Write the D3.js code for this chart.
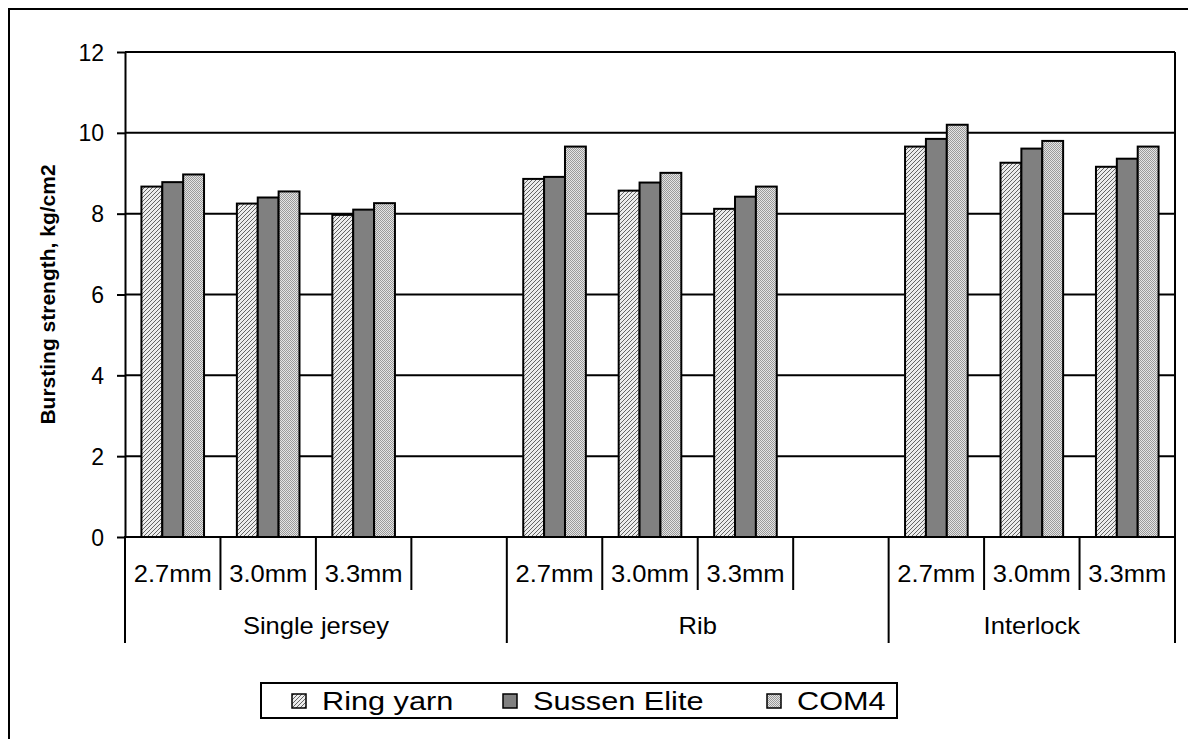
<!DOCTYPE html>
<html>
<head>
<meta charset="utf-8">
<script src="https://cdn.jsdelivr.net/npm/d3@7"></script>
<style>
  html, body { margin: 0; padding: 0; background: #fff; }
  svg { display: block; font-family: "Liberation Sans", Arial, sans-serif; }
</style>
</head>
<body>
<svg id="chart" width="1188" height="739"></svg>
<script>
// Fabric groups and gauge (loop length) sub-categories
const groups = ["Single jersey", "Rib", "Interlock"];
const gauges = ["2.7mm", "3.0mm", "3.3mm"];
// Category slots along the x axis (an empty slot separates the groups)
const slots = [
  { group: "Single jersey", gauge: "2.7mm" },
  { group: "Single jersey", gauge: "3.0mm" },
  { group: "Single jersey", gauge: "3.3mm" },
  { group: "Single jersey", gauge: "" },
  { group: "Rib", gauge: "2.7mm" },
  { group: "Rib", gauge: "3.0mm" },
  { group: "Rib", gauge: "3.3mm" },
  { group: "Rib", gauge: "" },
  { group: "Interlock", gauge: "2.7mm" },
  { group: "Interlock", gauge: "3.0mm" },
  { group: "Interlock", gauge: "3.3mm" }
];
const seriesNames = ["Ring yarn", "Sussen Elite", "COM4"];
// Bursting strength, kg/cm2 — per series, in slot order (gauges within groups)
const ringYarn    = [8.67, 8.25, 7.97,  8.86, 8.57, 8.12,  9.66, 9.26, 9.16];
const sussenElite = [8.78, 8.40, 8.10,  8.91, 8.77, 8.42,  9.85, 9.61, 9.36];
const com4        = [8.97, 8.55, 8.26,  9.66, 9.01, 8.67, 10.20, 9.80, 9.66];
const yTicks = [0, 2, 4, 6, 8, 10, 12];
const yTitle = "Bursting strength, kg/cm2";

const seriesValues = [ringYarn, sussenElite, com4];

const svg = d3.select("#chart");
const defs = svg.append("defs");

// Fill patterns
const pRing = defs.append("pattern").attr("id", "pat-ring")
  .attr("patternUnits", "userSpaceOnUse").attr("width", 4).attr("height", 4);
pRing.append("rect").attr("width", 4).attr("height", 4).attr("fill", "#ececec");
pRing.append("path").attr("d", "M-1,1 L1,-1 M0,4 L4,0 M3,5 L5,3")
  .attr("stroke", "#555").attr("stroke-width", 0.9);

const pCom = defs.append("pattern").attr("id", "pat-com")
  .attr("patternUnits", "userSpaceOnUse").attr("width", 2).attr("height", 2);
pCom.append("rect").attr("width", 2).attr("height", 2).attr("fill", "#e4e4e4");
pCom.append("rect").attr("width", 1).attr("height", 1).attr("fill", "#9a9a9a");
pCom.append("rect").attr("x", 1).attr("y", 1).attr("width", 1).attr("height", 1).attr("fill", "#9a9a9a");

const fills = ["url(#pat-ring)", "#808080", "url(#pat-com)"];

// Outer chart frame
svg.append("path").attr("d", "M9,739 V9 H1188")
  .attr("fill", "none").attr("stroke", "#000").attr("stroke-width", 2);

const plot = { left: 125, right: 1175, top: 52, bottom: 537 };

const y = d3.scaleLinear().domain([0, 12]).range([plot.bottom, plot.top]);
const x0 = d3.scaleBand().domain(d3.range(slots.length))
  .range([plot.left, plot.right]).padding(0);
const slotW = x0.bandwidth();
const x1 = d3.scaleBand().domain(seriesNames)
  .range([slotW * 0.172, slotW * 0.828]).padding(0);

// Horizontal gridlines
svg.append("g").selectAll("line").data(yTicks.filter(d => d > 0)).join("line")
  .attr("x1", plot.left).attr("x2", plot.right)
  .attr("y1", d => y(d)).attr("y2", d => y(d))
  .attr("stroke", "#000").attr("stroke-width", 2);

// Y axis
const yAxis = svg.append("g").attr("transform", `translate(${plot.left},0)`)
  .call(d3.axisLeft(y).tickValues(yTicks).tickSize(8).tickPadding(13).tickSizeOuter(0));
yAxis.select(".domain").attr("stroke", "#000").attr("stroke-width", 2);
yAxis.selectAll(".tick line").attr("stroke", "#000").attr("stroke-width", 2);
yAxis.selectAll(".tick text").attr("font-size", 23).attr("fill", "#000")
  .attr("font-family", "'Liberation Sans', Arial, sans-serif").attr("dy", "0.35em");

// Right border of the plot area
svg.append("line").attr("x1", plot.right).attr("x2", plot.right)
  .attr("y1", plot.top).attr("y2", plot.bottom)
  .attr("stroke", "#000").attr("stroke-width", 2);

// Bars (only slots that carry a gauge)
const dataSlots = slots.map((s, i) => ({ ...s, i })).filter(s => s.gauge !== "");
const barG = svg.append("g");
dataSlots.forEach((s, k) => {
  seriesNames.forEach((name, si) => {
    const v = seriesValues[si][k];
    barG.append("rect")
      .attr("x", x0(s.i) + x1(name))
      .attr("y", y(v))
      .attr("width", x1.bandwidth())
      .attr("height", y(0) - y(v))
      .attr("fill", fills[si])
      .attr("stroke", "#000").attr("stroke-width", 2);
  });
});

// X axis baseline
svg.append("line").attr("x1", plot.left - 1).attr("x2", plot.right + 1)
  .attr("y1", plot.bottom).attr("y2", plot.bottom)
  .attr("stroke", "#000").attr("stroke-width", 2);

// Multi-level category axis: slot dividers and group dividers
const xg = svg.append("g");
const boundaries = d3.range(slots.length + 1);
boundaries.forEach(b => {
  const xPos = b < slots.length ? x0(b) : plot.right;
  const isGroupEdge = b === 0 || b === slots.length ||
    slots[b].group !== slots[b - 1].group;
  xg.append("line").attr("x1", xPos).attr("x2", xPos)
    .attr("y1", plot.bottom).attr("y2", isGroupEdge ? 643 : 590)
    .attr("stroke", "#000").attr("stroke-width", 2);
});

// Gauge labels
slots.forEach((s, i) => {
  if (!s.gauge) return;
  const cx = x0(i) + slotW / 2;
  xg.append("text")
    .attr("transform", `translate(${cx},582) scale(1.11,1)`)
    .attr("text-anchor", "middle").attr("font-size", 23).text(s.gauge);
});

// Group labels centred on their slot spans
groups.forEach(g => {
  const idx = slots.map((s, i) => s.group === g ? i : -1).filter(i => i >= 0);
  const left = x0(idx[0]);
  const right = x0(idx[idx.length - 1]) + slotW;
  xg.append("text")
    .attr("transform", `translate(${(left + right) / 2},634) scale(1.11,1)`)
    .attr("text-anchor", "middle").attr("font-size", 23).text(g);
});

// Y axis title
svg.append("text")
  .attr("transform", `translate(55,${(plot.top + plot.bottom) / 2}) rotate(-90)`)
  .attr("text-anchor", "middle").attr("font-size", 21).attr("font-weight", "bold")
  .text(yTitle);

// Legend
const legend = svg.append("g");
legend.append("rect").attr("x", 261).attr("y", 683).attr("width", 636).attr("height", 35)
  .attr("fill", "#fff").attr("stroke", "#000").attr("stroke-width", 2);
const legendX = [292, 503, 767];
seriesNames.forEach((name, i) => {
  legend.append("rect").attr("x", legendX[i]).attr("y", 694).attr("width", 14).attr("height", 14)
    .attr("fill", fills[i]).attr("stroke", "#000").attr("stroke-width", 1.5);
  legend.append("text")
    .attr("transform", `translate(${legendX[i] + 30},710) scale(1.18,1)`)
    .attr("font-size", 26).text(name);
});
</script>
</body>
</html>
